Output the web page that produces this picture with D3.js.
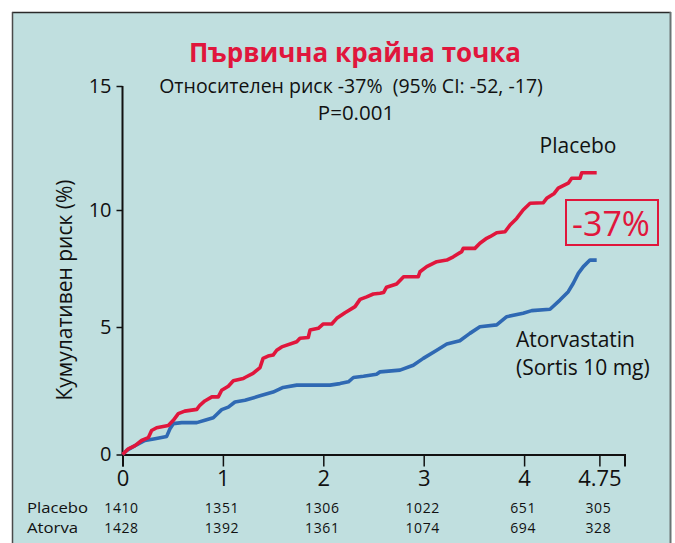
<!DOCTYPE html>
<html lang="bg">
<head>
<meta charset="utf-8">
<script src="https://cdn.jsdelivr.net/npm/d3@7"></script>
<style>
  html, body { margin: 0; padding: 0; background: #ffffff; }
  svg { display: block; }
  text { font-family: "Open Sans", "Noto Sans", sans-serif; white-space: pre; }
</style>
</head>
<body>
<svg id="chart" width="675" height="543" lang="bg"></svg>
<script>
// ---------- data ----------
const title = "Първична крайна точка";
const subtitle = "Относителен риск -37%  (95% CI: -52, -17)";
const pText = "P=0.001";
const yLabel = "Кумулативен риск (%)";
const reductionLabel = "-37%";

const xTicks = [0, 1, 2, 3, 4, 4.75];
const yTicks = [0, 5, 10, 15];

const atRiskGroups = ["Placebo", "Atorva"];
const atRiskPlacebo = [1410, 1351, 1306, 1022, 651, 305];
const atRiskAtorva = [1428, 1392, 1361, 1074, 694, 328];

// Placebo: [years, cumulative risk %]
const placeboCurve = [
  [0, 0], [0.058, 0.22], [0.125, 0.35], [0.19, 0.55], [0.257, 0.66], [0.29, 0.94],
  [0.34, 1.05], [0.456, 1.14], [0.506, 1.34], [0.556, 1.60], [0.62, 1.70], [0.74, 1.77],
  [0.77, 1.93], [0.82, 2.10], [0.89, 2.26], [0.954, 2.26], [0.988, 2.52], [1.054, 2.68],
  [1.104, 2.89], [1.203, 2.98], [1.22, 3.02], [1.30, 3.18], [1.37, 3.41], [1.40, 3.77],
  [1.45, 3.86], [1.50, 3.90], [1.536, 4.09], [1.586, 4.22], [1.735, 4.42], [1.768, 4.56],
  [1.85, 4.59], [1.868, 4.88], [1.95, 4.95], [2.0, 5.13], [2.084, 5.13], [2.134, 5.37],
  [2.216, 5.61], [2.316, 5.87], [2.366, 6.18], [2.432, 6.29], [2.498, 6.41], [2.565, 6.44],
  [2.6, 6.47], [2.63, 6.70], [2.73, 6.84], [2.80, 7.15], [2.946, 7.15], [2.963, 7.36],
  [3.03, 7.58], [3.13, 7.79], [3.23, 7.86], [3.295, 8.00], [3.378, 8.22], [3.394, 8.36],
  [3.51, 8.36], [3.56, 8.58], [3.627, 8.79], [3.66, 8.86], [3.727, 9.03], [3.81, 9.07],
  [3.86, 9.36], [3.926, 9.64], [3.99, 10.0], [4.06, 10.27], [4.19, 10.29], [4.225, 10.47],
  [4.30, 10.67], [4.34, 10.88], [4.44, 11.08], [4.474, 11.28], [4.557, 11.28], [4.574, 11.50],
  [4.723, 11.50]
];

// Atorvastatin: [years, cumulative risk %]
const atorvaCurve = [
  [0, 0], [0.042, 0.16], [0.125, 0.35], [0.224, 0.55], [0.324, 0.62], [0.44, 0.71],
  [0.473, 1.01], [0.506, 1.21], [0.59, 1.25], [0.74, 1.25], [0.82, 1.34], [0.904, 1.44],
  [0.938, 1.57], [0.988, 1.76], [1.054, 1.86], [1.12, 2.06], [1.22, 2.13], [1.37, 2.30],
  [1.50, 2.45], [1.60, 2.63], [1.735, 2.72], [2.067, 2.72], [2.166, 2.78], [2.25, 2.85],
  [2.30, 3.02], [2.40, 3.07], [2.53, 3.15], [2.565, 3.24], [2.764, 3.31], [2.896, 3.50],
  [2.996, 3.77], [3.13, 4.09], [3.23, 4.33], [3.36, 4.46], [3.46, 4.75], [3.56, 5.01],
  [3.727, 5.09], [3.827, 5.44], [3.99, 5.59], [4.076, 5.70], [4.258, 5.76], [4.357, 6.15],
  [4.44, 6.51], [4.49, 6.87], [4.54, 7.29], [4.59, 7.58], [4.656, 7.86], [4.723, 7.86]
];

const seriesNames = ["Placebo", "Atorvastatin", "(Sortis 10 mg)"];

// ---------- drawing ----------
const RED = "#e0163c";
const BLUE = "#2f69b3";
const FONT = "'Open Sans', 'Noto Sans', sans-serif";
const svg = d3.select("#chart");

// panel
svg.append("rect").attr("x", 12).attr("y", 12).attr("width", 659).attr("height", 540)
  .attr("fill", "#c0dfdf");
svg.append("line").attr("x1", 12).attr("x2", 671).attr("y1", 12.5).attr("y2", 12.5)
  .attr("stroke", "#2a2a2a").attr("stroke-width", 1.5);
svg.append("line").attr("x1", 12.5).attr("x2", 12.5).attr("y1", 12).attr("y2", 543)
  .attr("stroke", "#4a4a4a").attr("stroke-width", 1.5);
svg.append("line").attr("x1", 670.5).attr("x2", 670.5).attr("y1", 12).attr("y2", 543)
  .attr("stroke", "#6a7474").attr("stroke-width", 2);

const x = d3.scaleLinear().domain([0, 5]).range([122.5, 624.5]);
const y = d3.scaleLinear().domain([0, 5, 10, 15]).range([454.5, 327, 210, 86]);

// titles
svg.append("text").attr("x", 355).attr("y", 62).attr("text-anchor", "middle")
  .attr("fill", RED).attr("font-weight", "bold").attr("font-size", 26).text(title);
svg.append("text").attr("x", 351).attr("y", 93).attr("text-anchor", "middle")
  .attr("fill", "#111").attr("font-size", 19.5).text(subtitle);
svg.append("text").attr("x", 356).attr("y", 120).attr("text-anchor", "middle")
  .attr("fill", "#111").attr("font-size", 20.5).text(pText);

// y axis
const yAxis = svg.append("g").attr("transform", `translate(${x(0)},0)`)
  .call(d3.axisLeft(y).tickValues(yTicks).tickSize(6).tickSizeOuter(0).tickPadding(5)
    .tickFormat(d3.format("d")));
yAxis.select(".domain").remove();
yAxis.append("line").attr("x1", 0).attr("x2", 0).attr("y1", y(15)).attr("y2", y(0))
  .attr("stroke", "#111").attr("stroke-width", 2);
yAxis.selectAll(".tick line").attr("stroke", "#111").attr("stroke-width", 1.5);
yAxis.selectAll(".tick text").attr("font-size", 20).attr("fill", "#111")
  .style("font-family", FONT);

svg.append("text").attr("transform", `translate(72,290) rotate(-90)`)
  .attr("text-anchor", "middle").attr("fill", "#111").attr("font-size", 21).text(yLabel);

// x axis
const xAxis = svg.append("g").attr("transform", `translate(0,${y(0)})`)
  .call(d3.axisBottom(x).tickValues(xTicks).tickSize(12).tickSizeOuter(12).tickPadding(4)
    .tickFormat(d => d === 4.75 ? "4.75" : d3.format("d")(d)));
xAxis.select(".domain").attr("stroke", "#111").attr("stroke-width", 2);
xAxis.selectAll(".tick line").attr("stroke", "#111").attr("stroke-width", 1.5);
xAxis.selectAll(".tick text").attr("font-size", 22).attr("fill", "#111")
  .style("font-family", FONT);

// curves
const line = d3.line().x(d => x(d[0])).y(d => y(d[1])).curve(d3.curveLinear);
svg.append("path").datum(atorvaCurve).attr("d", line).attr("fill", "none")
  .attr("stroke", BLUE).attr("stroke-width", 3.6).attr("stroke-linejoin", "round");
svg.append("path").datum(placeboCurve).attr("d", line).attr("fill", "none")
  .attr("stroke", RED).attr("stroke-width", 3.6).attr("stroke-linejoin", "round");

// series labels
svg.append("text").attr("x", 578).attr("y", 153).attr("text-anchor", "middle")
  .attr("fill", "#111").attr("font-size", 21).text(seriesNames[0]);
svg.append("text").attr("x", 516).attr("y", 347).attr("fill", "#111")
  .attr("font-size", 21).text(seriesNames[1]);
svg.append("text").attr("x", 516).attr("y", 375).attr("fill", "#111")
  .attr("font-size", 21).text(seriesNames[2]);

// reduction box
svg.append("rect").attr("x", 566).attr("y", 200).attr("width", 92).attr("height", 45)
  .attr("fill", "none").attr("stroke", RED).attr("stroke-width", 2);
svg.append("text").attr("x", 611).attr("y", 236).attr("text-anchor", "middle")
  .attr("fill", RED).attr("font-size", 34).text(reductionLabel);

// at-risk table
const atRisk = [atRiskPlacebo, atRiskAtorva];
const rowLabelWidths = [61, 51];
atRiskGroups.forEach((g, i) => {
  const yy = 513 + i * 19.5;
  svg.append("text").attr("x", 27).attr("y", yy).attr("fill", "#111")
    .attr("font-size", 14).attr("textLength", rowLabelWidths[i])
    .attr("lengthAdjust", "spacingAndGlyphs").text(g);
  svg.append("g").selectAll("text").data(atRisk[i]).join("text")
    .attr("x", (d, j) => x(xTicks[j]) - 1).attr("y", yy)
    .attr("text-anchor", "middle").attr("fill", "#111").attr("font-size", 14)
    .attr("letter-spacing", 0.6)
    .text(d => d);
});
</script>
</body>
</html>
